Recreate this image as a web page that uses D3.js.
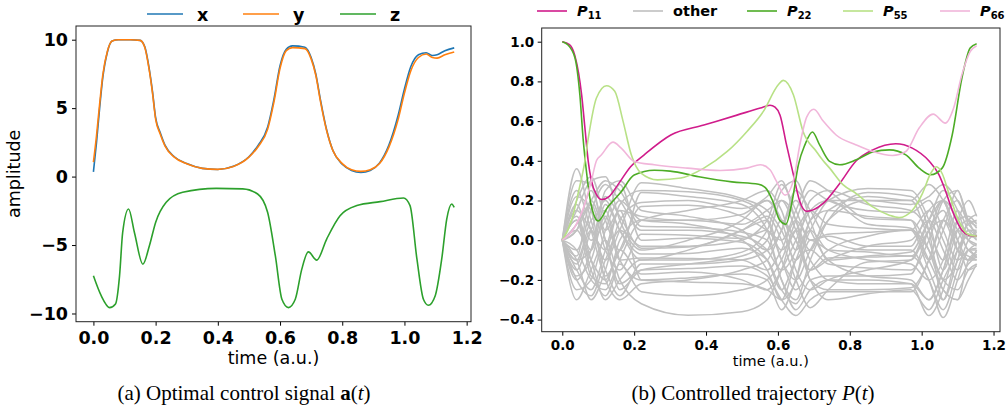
<!DOCTYPE html>
<html>
<head>
<meta charset="utf-8">
<script src="https://cdn.jsdelivr.net/npm/d3@7"></script>
<style>
  body { margin: 0; background: #fff; }
  svg { display: block; }
</style>
</head>
<body>
<div id="chart"></div>
<script>
// --- --- --- --- --- --- --- --- --- --- ---
// Data, panel (a): control amplitudes

const tXY = [0, 0.01, 0.02, 0.03, 0.045, 0.06, 0.08, 0.12, 0.15, 0.165, 0.18, 0.19, 0.2, 0.215, 0.23, 0.26, 0.3, 0.35, 0.4, 0.45,
  0.5, 0.53, 0.56, 0.58, 0.6, 0.62, 0.64, 0.68, 0.7, 0.715, 0.73, 0.75, 0.77, 0.8, 0.83, 0.86, 0.89, 0.92, 0.95, 0.98,
  1.0, 1.02, 1.045, 1.07, 1.09, 1.105, 1.13, 1.16];
const xVals = [0.34, 2.5, 5.0, 7.2, 9.1, 9.9, 10.0, 10.0, 9.95, 9.5, 7.8, 6.2, 4.3, 3.2, 2.3, 1.45, 0.95, 0.6, 0.52, 0.75,
  1.45, 2.3, 3.6, 5.6, 8.1, 9.3, 9.55, 9.45, 8.7, 7.5, 5.6, 3.4, 1.9, 0.9, 0.45, 0.3, 0.45, 1.0, 2.3, 4.5,
  6.4, 8.0, 8.9, 9.05, 8.85, 8.9, 9.2, 9.4];
const yVals = [1.05, 3.0, 5.3, 7.4, 9.15, 9.9, 10.0, 10.0, 9.95, 9.45, 7.7, 6.1, 4.2, 3.1, 2.25, 1.42, 0.93, 0.6, 0.53, 0.74,
  1.42, 2.2, 3.45, 5.4, 7.9, 9.2, 9.42, 9.35, 8.6, 7.4, 5.5, 3.35, 1.9, 0.95, 0.5, 0.38, 0.5, 0.95, 2.15, 4.2,
  6.1, 7.7, 8.7, 8.95, 8.7, 8.65, 8.9, 9.1];
const tZ = [0, 0.025, 0.052, 0.071, 0.084, 0.094, 0.113, 0.132, 0.159, 0.18, 0.2, 0.234, 0.287, 0.395, 0.48, 0.528, 0.56, 0.585, 0.606, 0.627,
  0.649, 0.67, 0.691, 0.718, 0.75, 0.793, 0.847, 0.922, 0.997, 1.018, 1.04, 1.061, 1.077, 1.099, 1.12, 1.136, 1.152, 1.16];
const zVals = [-7.25, -8.7, -9.57, -9.3, -7.25, -4.1, -2.37, -4.1, -6.4, -5.05, -3.35, -1.88, -1.15, -0.86, -0.9, -1.27, -2.6, -5.8, -8.96, -9.57,
  -8.96, -6.76, -5.5, -6.1, -4.56, -2.86, -2.12, -1.83, -1.56, -2.12, -6.0, -8.96, -9.4, -8.7, -6.0, -3.1, -2.0, -2.25];

const legendA = ["x", "y", "z"];
const colorsA = ["#1f77b4", "#ff7f0e", "#2ca02c"];
const ticksAx = [0, 0.2, 0.4, 0.6, 0.8, 1.0, 1.2];
const ticksAy = [-10, -5, 0, 5, 10];

// --- --- --- --- --- --- --- --- --- --- ---
// Data, panel (b): trajectory elements

const tP11 = [0, 0.02, 0.035, 0.054, 0.063, 0.072, 0.081, 0.095, 0.11, 0.13, 0.155, 0.19, 0.228, 0.302, 0.394, 0.486, 0.551, 0.578, 0.592, 0.606,
  0.624, 0.643, 0.66, 0.68, 0.726, 0.772, 0.818, 0.864, 0.928, 0.974, 1.02, 1.048, 1.066, 1.085, 1.112, 1.131, 1.153];
const p11 = [1.0, 0.985, 0.93, 0.73, 0.565, 0.40, 0.30, 0.23, 0.205, 0.22, 0.28, 0.37, 0.43, 0.53, 0.58, 0.63, 0.666, 0.68, 0.67, 0.63,
  0.48, 0.33, 0.2, 0.145, 0.185, 0.286, 0.40, 0.455, 0.486, 0.464, 0.40, 0.33, 0.25, 0.15, 0.05, 0.025, 0.02];

const tP22 = [0, 0.015, 0.035, 0.049, 0.058, 0.067, 0.08, 0.1, 0.127, 0.164, 0.2, 0.256, 0.3, 0.38, 0.472, 0.546, 0.565, 0.585, 0.605, 0.622,
  0.64, 0.657, 0.675, 0.696, 0.716, 0.744, 0.772, 0.818, 0.864, 0.91, 0.956, 0.993, 1.025, 1.057, 1.085, 1.112, 1.135, 1.153];
const p22 = [1.0, 0.985, 0.92, 0.73, 0.51, 0.35, 0.18, 0.097, 0.168, 0.244, 0.328, 0.352, 0.348, 0.32, 0.294, 0.282, 0.265, 0.2, 0.1, 0.08,
  0.2, 0.38, 0.48, 0.545, 0.48, 0.397, 0.38, 0.405, 0.444, 0.455, 0.43, 0.363, 0.33, 0.363, 0.53, 0.817, 0.968, 0.99];

const tP55 = [0, 0.026, 0.044, 0.063, 0.072, 0.095, 0.123, 0.146, 0.169, 0.192, 0.219, 0.265, 0.33, 0.394, 0.459, 0.514, 0.56, 0.601, 0.615, 0.643,
  0.67, 0.707, 0.726, 0.744, 0.781, 0.818, 0.864, 0.91, 0.937, 0.974, 1.002, 1.025, 1.041, 1.057, 1.076, 1.103, 1.126, 1.153];
const p55 = [0, 0.1, 0.235, 0.4, 0.51, 0.716, 0.778, 0.75, 0.6, 0.43, 0.338, 0.304, 0.313, 0.363, 0.447, 0.548, 0.65, 0.783, 0.805, 0.733,
  0.548, 0.447, 0.40, 0.363, 0.28, 0.235, 0.168, 0.126, 0.114, 0.151, 0.235, 0.336, 0.37, 0.336, 0.235, 0.1, 0.034, 0.02];

const tP66 = [0, 0.035, 0.063, 0.081, 0.095, 0.109, 0.141, 0.164, 0.2, 0.256, 0.348, 0.44, 0.514, 0.551, 0.578, 0.595, 0.62, 0.643, 0.661, 0.68,
  0.7, 0.726, 0.762, 0.818, 0.864, 0.919, 0.956, 0.993, 1.032, 1.066, 1.089, 1.112, 1.135, 1.153];
const p66 = [0, 0.067, 0.185, 0.30, 0.40, 0.43, 0.494, 0.464, 0.397, 0.38, 0.363, 0.351, 0.363, 0.38, 0.355, 0.3, 0.227, 0.3, 0.48, 0.62,
  0.66, 0.6, 0.53, 0.48, 0.447, 0.427, 0.447, 0.565, 0.635, 0.59, 0.666, 0.834, 0.95, 0.98];

// the remaining ("other") elements, read at common knots
const tOther = [0, 0.04, 0.08, 0.12, 0.16, 0.22, 0.35, 0.5, 0.57, 0.61, 0.65, 0.69, 0.74, 0.85, 0.97, 1.02, 1.06, 1.1, 1.13, 1.153];
const other = [
  [0, 0.36, 0.1, -0.1, 0.05, 0.29, 0.26, 0.21, 0.15, 0.05, -0.1, 0.05, 0.2, 0.26, 0.25, 0.1, -0.15, 0.05, 0.1, 0.06],
  [0, 0.2, 0.32, 0.1, -0.05, 0.24, 0.22, 0.18, 0.05, -0.2, -0.3, -0.1, 0.1, 0.24, 0.22, 0.05, -0.3, -0.1, 0.05, 0.02],
  [0, -0.1, -0.3, -0.15, 0.1, 0.19, 0.2, 0.16, 0.22, 0.3, 0.1, -0.05, 0.15, 0.22, 0.2, 0.28, 0.2, 0.05, -0.05, -0.08],
  [0, 0.15, 0.3, 0.32, 0.1, -0.05, 0.0, 0.1, 0.2, 0.1, -0.15, -0.25, -0.2, -0.15, -0.1, 0.1, 0.25, 0.15, 0.0, -0.03],
  [0, -0.2, -0.05, 0.25, 0.3, 0.15, 0.12, 0.05, -0.05, 0.05, 0.25, 0.15, 0.0, -0.05, -0.05, -0.2, -0.35, -0.15, 0.0, 0.04],
  [0, 0.1, -0.15, -0.28, -0.1, 0.1, 0.15, 0.2, 0.25, 0.15, -0.05, 0.1, 0.2, 0.2, 0.18, 0.22, 0.28, 0.2, 0.1, 0.07],
  [0, -0.15, 0.05, 0.2, 0.05, -0.1, -0.05, 0.05, 0.1, -0.1, -0.25, -0.15, -0.05, 0.02, 0.05, -0.05, -0.2, -0.25, -0.15, -0.12],
  [0, 0.05, 0.25, 0.0, -0.25, -0.15, -0.12, -0.08, 0.0, 0.2, 0.1, -0.2, -0.25, -0.25, -0.24, -0.1, 0.1, 0.0, -0.1, -0.1],
  [0, -0.25, -0.2, 0.05, 0.2, 0.1, 0.08, 0.0, -0.15, -0.3, -0.2, 0.1, 0.15, 0.12, 0.1, -0.05, -0.25, -0.3, -0.1, -0.06],
  [0, 0.25, 0.05, -0.2, -0.3, -0.22, -0.2, -0.15, -0.1, 0.05, 0.2, 0.05, -0.1, -0.18, -0.2, -0.3, -0.15, 0.1, 0.12, 0.08],
  [0, -0.05, 0.15, 0.28, 0.2, 0.05, 0.05, 0.02, -0.05, -0.15, -0.05, 0.2, 0.25, 0.18, 0.15, 0.05, -0.1, 0.1, 0.2, 0.12],
  [0, 0.12, -0.1, -0.3, -0.2, -0.1, -0.1, -0.06, 0.05, 0.25, 0.3, 0.1, -0.1, -0.08, -0.06, 0.1, 0.2, 0.0, -0.15, -0.13],
  [0, -0.1, 0.1, 0.15, -0.1, -0.2, -0.19, -0.17, -0.2, -0.35, -0.2, 0.0, -0.05, -0.1, -0.12, -0.2, -0.1, 0.15, 0.05, 0.0],
  [0, 0.3, 0.28, 0.05, 0.15, 0.12, 0.1, 0.13, 0.2, 0.1, 0.0, -0.2, -0.3, -0.27, -0.25, -0.35, -0.2, -0.05, 0.05, 0.05],
  [0, -0.2, -0.28, -0.1, 0.05, -0.03, -0.03, 0.0, 0.05, -0.05, 0.05, 0.15, 0.08, 0.06, 0.05, 0.15, 0.0, -0.15, -0.05, -0.02],
  [0, 0.08, 0.2, 0.3, 0.25, 0.07, 0.065, 0.04, 0.0, -0.2, -0.35, -0.25, -0.2, -0.2, -0.22, -0.38, -0.25, 0.0, 0.08, 0.1],
  [0, -0.05, -0.2, -0.25, -0.12, -0.26, -0.28, -0.25, -0.2, -0.1, 0.1, 0.25, 0.2, 0.15, 0.14, 0.2, 0.05, -0.1, -0.05, -0.04],
  [0, 0.18, 0.0, 0.1, 0.28, 0.0, 0.01, -0.01, -0.1, -0.25, -0.1, -0.05, -0.12, -0.14, -0.15, 0.0, 0.2, 0.25, 0.1, 0.02],
  [0, -0.12, 0.05, -0.15, -0.28, -0.12, -0.12, -0.1, -0.05, 0.1, 0.0, -0.15, -0.1, -0.03, 0.0, 0.1, -0.05, -0.2, -0.12, -0.08],
  [0, 0.1, -0.05, 0.18, 0.05, -0.07, -0.067, -0.04, -0.1, -0.25, -0.32, -0.2, -0.18, -0.18, -0.17, 0.05, 0.15, -0.05, -0.1, -0.05],
  [0, -0.3, -0.15, 0.0, -0.2, -0.32, -0.378, -0.36, -0.3, -0.15, 0.05, -0.1, -0.2, -0.22, -0.22, -0.3, -0.15, 0.05, 0.0, -0.02],
  [0, 0.05, 0.18, -0.05, -0.15, 0.03, 0.025, 0.01, 0.1, 0.28, 0.15, 0.0, 0.03, 0.04, 0.05, -0.15, -0.3, -0.05, 0.02, 0.01],
  [0, -0.15, -0.25, -0.05, 0.15, -0.2, -0.21, -0.22, -0.25, -0.3, -0.1, 0.05, -0.05, -0.06, -0.08, 0.05, 0.2, 0.1, -0.05, -0.05],
  [0, 0.22, 0.15, -0.18, -0.05, 0.17, 0.176, 0.12, 0.05, 0.0, 0.15, 0.3, 0.25, 0.109, 0.1, -0.1, 0.05, 0.25, 0.1, 0.09],
  [0, -0.08, 0.2, 0.0, -0.22, -0.15, -0.143, -0.13, -0.18, -0.3, -0.38, -0.3, -0.26, -0.26, -0.26, -0.1, 0.1, 0.2, 0.08, 0.04],
  [0, 0.1, -0.18, -0.22, 0.0, 0.1, 0.1, 0.08, 0.15, 0.2, 0.05, -0.15, -0.09, -0.085, -0.08, -0.2, -0.39, -0.2, -0.05, -0.09],
  [0, -0.1, -0.05, 0.22, 0.12, -0.04, -0.034, 0.05, 0.12, 0.0, -0.2, -0.34, -0.25, -0.11, -0.1, 0.05, 0.1, -0.05, -0.08, -0.1],
  [0, 0.15, 0.05, -0.05, 0.18, 0.25, 0.244, 0.2, 0.1, -0.1, -0.2, -0.05, 0.1, 0.2, 0.2, 0.0, -0.2, -0.1, 0.1, 0.13],
  [0, -0.18, -0.1, 0.12, -0.1, -0.09, -0.092, -0.1, -0.15, -0.05, 0.1, 0.0, 0.02, -0.03, -0.03, 0.15, 0.2, -0.05, -0.1, -0.07],
  [0, 0.05, -0.1, -0.2, -0.05, -0.17, -0.16, -0.2, -0.25, -0.15, 0.0, 0.15, 0.2, 0.08, 0.06, -0.1, -0.25, -0.3, -0.2, -0.12]
];

const legendB = [
  {name: "P", sub: "11", color: "#d01c8b"},
  {name: "other", sub: "", color: "#c0c0c0"},
  {name: "P", sub: "22", color: "#4dac26"},
  {name: "P", sub: "55", color: "#b8e186"},
  {name: "P", sub: "66", color: "#f1b6da"}
];
const ticksBx = [0, 0.2, 0.4, 0.6, 0.8, 1.0, 1.2];
const ticksBy = [-0.4, -0.2, 0, 0.2, 0.4, 0.6, 0.8, 1.0];

// --- --- --- --- --- --- --- --- --- --- ---
// Plot

const W = 1007, H = 407;
const boxA = {left: 76, right: 471, top: 26, bottom: 321.7};
const boxB = {left: 541.7, right: 1000, top: 28, bottom: 331.7};

let svg = d3.select("#chart")
  .append("svg")
  .attr("width", W)
  .attr("height", H)
  .style("font-family", "'DejaVu Sans', sans-serif");

let x_a = d3.scaleLinear().domain([-0.056, 1.214]).range([boxA.left, boxA.right]);
let y_a = d3.scaleLinear().domain([-10.6, 11.0]).range([boxA.bottom, boxA.top]);
let x_b = d3.scaleLinear().domain([-0.0573, 1.218]).range([boxB.left, boxB.right]);
let y_b = d3.scaleLinear().domain([-0.461, 1.069]).range([boxB.bottom, boxB.top]);

function clip(id, box) {
  svg.append("clipPath").attr("id", id)
    .append("rect")
    .attr("x", box.left).attr("y", box.top)
    .attr("width", box.right - box.left).attr("height", box.bottom - box.top);
}
clip("clipA", boxA);
clip("clipB", boxB);

function drawSeries(g, ts, vs, xs, ys, color, w) {
  let line = d3.line()
    .x(d => xs(d[0]))
    .y(d => ys(d[1]))
    .curve(d3.curveMonotoneX);
  g.append("path")
    .datum(ts.map((t, i) => [t, vs[i]]))
    .attr("d", line)
    .attr("fill", "none")
    .attr("stroke", color)
    .attr("stroke-width", w)
    .attr("stroke-linejoin", "round");
}

function styleAxis(g, size) {
  g.select(".domain").remove();
  g.attr("font-family", "'DejaVu Sans', sans-serif").attr("font-size", size);
  g.selectAll(".tick line").attr("stroke", "#000").attr("stroke-width", 1);
  g.selectAll(".tick text").attr("fill", "#000").style("font-weight", "bold");
}

function frame(box) {
  svg.append("rect")
    .attr("x", box.left).attr("y", box.top)
    .attr("width", box.right - box.left).attr("height", box.bottom - box.top)
    .attr("fill", "none")
    .attr("stroke", "#222")
    .attr("stroke-width", 1);
}

// panel (a)
let gA = svg.append("g").attr("clip-path", "url(#clipA)");
drawSeries(gA, tXY, xVals, x_a, y_a, colorsA[0], 1.6);
drawSeries(gA, tXY, yVals, x_a, y_a, colorsA[1], 1.6);
drawSeries(gA, tZ, zVals, x_a, y_a, colorsA[2], 1.6);

svg.append("g")
  .attr("transform", "translate(0," + boxA.bottom + ")")
  .call(d3.axisBottom(x_a).tickValues(ticksAx).tickFormat(d3.format(".1f")).tickSize(4).tickPadding(6))
  .call(g => styleAxis(g, 17.5));
svg.append("g")
  .attr("transform", "translate(" + boxA.left + ",0)")
  .call(d3.axisLeft(y_a).tickValues(ticksAy).tickFormat(d3.format("d")).tickSize(4).tickPadding(4))
  .call(g => styleAxis(g, 17.5));
frame(boxA);

svg.append("text")
  .attr("x", (boxA.left + boxA.right) / 2)
  .attr("y", 364)
  .style("text-anchor", "middle")
  .style("font-size", "17.5px")
  .text("time (a.u.)");

svg.append("text")
  .attr("transform", "translate(20," + ((boxA.top + boxA.bottom) / 2) + ") rotate(-90)")
  .style("text-anchor", "middle")
  .style("font-size", "17.5px")
  .text("amplitude");

// legend (a)
const legAx = [147, 243, 340];
legendA.forEach((name, i) => {
  svg.append("line")
    .attr("x1", legAx[i]).attr("x2", legAx[i] + 36)
    .attr("y1", 14).attr("y2", 14)
    .attr("stroke", colorsA[i]).attr("stroke-width", 1.6);
  svg.append("text")
    .attr("x", legAx[i] + 50).attr("y", 20.5)
    .style("font-size", "17.5px")
    .style("font-weight", "bold")
    .text(name);
});

// panel (b)
let gB = svg.append("g").attr("clip-path", "url(#clipB)");
other.forEach(vs => drawSeries(gB, tOther, vs, x_b, y_b, legendB[1].color, 1.5));
drawSeries(gB, tP11, p11, x_b, y_b, legendB[0].color, 1.6);
drawSeries(gB, tP22, p22, x_b, y_b, legendB[2].color, 1.6);
drawSeries(gB, tP55, p55, x_b, y_b, legendB[3].color, 1.6);
drawSeries(gB, tP66, p66, x_b, y_b, legendB[4].color, 1.6);

svg.append("g")
  .attr("transform", "translate(0," + boxB.bottom + ")")
  .call(d3.axisBottom(x_b).tickValues(ticksBx).tickFormat(d3.format(".1f")).tickSize(4).tickPadding(5))
  .call(g => styleAxis(g, 13.5));
svg.append("g")
  .attr("transform", "translate(" + boxB.left + ",0)")
  .call(d3.axisLeft(y_b).tickValues(ticksBy).tickFormat(d3.format(".1f")).tickSize(4).tickPadding(3.5))
  .call(g => styleAxis(g, 13.5));
frame(boxB);

svg.append("text")
  .attr("x", (boxB.left + boxB.right) / 2)
  .attr("y", 366)
  .style("text-anchor", "middle")
  .style("font-size", "14.5px")
  .text("time (a.u.)");

// legend (b)
const legBx = [537, 633, 747, 843, 940];
legendB.forEach((d, i) => {
  svg.append("line")
    .attr("x1", legBx[i]).attr("x2", legBx[i] + 30)
    .attr("y1", 11).attr("y2", 11)
    .attr("stroke", d.color).attr("stroke-width", 1.6);
  let t = svg.append("text")
    .attr("x", legBx[i] + 40).attr("y", 16)
    .style("font-size", "14.5px")
    .style("font-weight", "bold");
  if (d.sub) {
    t.append("tspan").style("font-style", "italic").text(d.name);
    t.append("tspan").attr("dy", 3).style("font-size", "10px").text(d.sub);
  } else {
    t.text(d.name);
  }
});

// captions
let capA = svg.append("text")
  .attr("x", 244).attr("y", 400)
  .style("text-anchor", "middle")
  .style("font-family", "'Liberation Serif', 'Times New Roman', serif")
  .style("font-size", "21px");
capA.append("tspan").text("(a) Optimal control signal ");
capA.append("tspan").style("font-weight", "bold").text("a");
capA.append("tspan").text("(");
capA.append("tspan").style("font-style", "italic").text("t");
capA.append("tspan").text(")");

let capB = svg.append("text")
  .attr("x", 753).attr("y", 400)
  .style("text-anchor", "middle")
  .style("font-family", "'Liberation Serif', 'Times New Roman', serif")
  .style("font-size", "21px");
capB.append("tspan").text("(b) Controlled trajectory ");
capB.append("tspan").style("font-style", "italic").text("P");
capB.append("tspan").text("(");
capB.append("tspan").style("font-style", "italic").text("t");
capB.append("tspan").text(")");
</script>
</body>
</html>
